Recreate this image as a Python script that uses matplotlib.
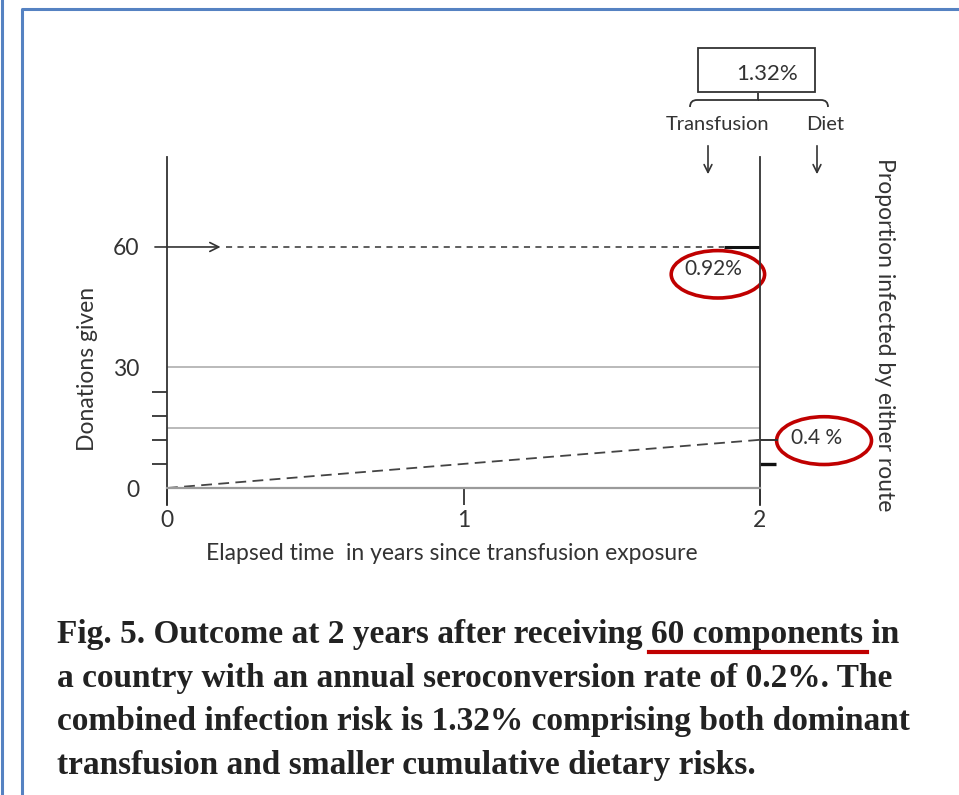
import matplotlib
matplotlib.use("Agg")
import matplotlib.pyplot as plt
from matplotlib.patches import Ellipse, Rectangle, PathPatch
from matplotlib.path import Path
from matplotlib.lines import Line2D

# ---- data -------------------------------------------------------------
years = [0, 1, 2]
year_labels = ["0", "1", "2"]
donation_ticks = [0, 30, 60]
donation_labels = ["0", "30", "60"]
minor_donation_ticks = [6, 12, 18, 24, 30]
components_received = 60          # units transfused at time 0
reference_levels = [30, 15]       # grey guide lines
diet_years = [0, 2]
diet_equivalent = [0, 12]         # cumulative dietary exposure, donation-equivalents
right_marks = [60, 12, 6]         # marks on the right-hand scale
transfusion_risk = "0.92%"
dietary_risk = "0.4 %"
combined_risk = "1.32%"
caption_lines = [
    "Fig. 5. Outcome at 2 years after receiving 60 components in",
    "a country with an annual seroconversion rate of 0.2%. The",
    "combined infection risk is 1.32% comprising both dominant",
    "transfusion and smaller cumulative dietary risks.",
]
highlight = "60 components"       # phrase underlined in the caption

W, H = 959, 795
fig = plt.figure(figsize=(W / 100, H / 100), dpi=100)
fig.patch.set_facecolor("white")

ink = "#333333"
grey = "#b4b4b4"
red = "#c00000"
blue = "#5582c2"
sans = "Lato"
fs = 16.5

# ---- main axes --------------------------------------------------------
px_left, px_right, px_top, px_bottom = 167, 760, 157, 505
ax = fig.add_axes([px_left / W, 1 - px_bottom / H,
                   (px_right - px_left) / W, (px_bottom - px_top) / H])
ax.set_facecolor("none")
ax.set_xlim(0, 2)
ax.set_ylim(-4.23, 82.4)

for s in ("left", "right"):
    ax.spines[s].set_color(ink)
    ax.spines[s].set_linewidth(1.3)
ax.spines["top"].set_visible(False)
ax.spines["bottom"].set_position(("data", 0))
ax.spines["bottom"].set_color("#9a9a9a")
ax.spines["bottom"].set_linewidth(1.6)

ax.set_xticks(years)
ax.set_xticklabels(year_labels, fontfamily=sans, fontsize=fs, color=ink)
ax.tick_params(axis="x", direction="out", length=12.5, width=1.3,
               color=ink, pad=3)

ax.set_yticks(donation_ticks)
ax.set_yticklabels(donation_labels, fontfamily=sans, fontsize=fs, color=ink)
ax.tick_params(axis="y", which="major", length=0, pad=20)
ax.set_yticks(minor_donation_ticks, minor=True)
ax.tick_params(axis="y", which="minor", direction="out", length=10.5,
               width=1.3, color=ink)

# grey reference levels
for lvl in reference_levels:
    ax.plot([0, 2], [lvl, lvl], color=grey, lw=1.3, zorder=1)

# transfused components: arrow then dashed carry-forward to year 2
ax.annotate("", xy=(0.19, components_received), xytext=(-0.05, components_received),
            arrowprops=dict(arrowstyle="->", color=ink, lw=1.2,
                            mutation_scale=16),
            annotation_clip=False)
ax.plot([0.2, 1.88], [components_received] * 2, color=ink, lw=1.1,
        dashes=(4, 3.5))
ax.plot([1.88, 2], [components_received] * 2, color="#111111", lw=2.2,
        solid_capstyle="butt")

# cumulative dietary exposure
ax.plot(diet_years, diet_equivalent, color="#444444", lw=1.3, dashes=(6, 3.5))

# marks on the right-hand scale
ax.plot([2, 2.06], [right_marks[1]] * 2, color=ink, lw=1.4,
        clip_on=False, solid_capstyle="butt")
ax.plot([2, 2.055], [right_marks[2]] * 2, color="#111111", lw=2.4,
        clip_on=False, solid_capstyle="butt")

# value labels with red rings
ax.annotate(transfusion_risk, xy=(2, components_received), xytext=(-47, -22),
            textcoords="offset pixels", ha="center", va="center",
            fontfamily=sans, fontsize=15, color=ink, annotation_clip=False)
ax.add_patch(Ellipse((1.858, components_received - 6.8), 0.315, 11.8,
                     fill=False, ec=red, lw=2.6, clip_on=False))
ax.annotate(dietary_risk, xy=(2, diet_equivalent[-1]), xytext=(57, 2),
            textcoords="offset pixels", ha="center", va="center",
            fontfamily=sans, fontsize=15, color=ink, annotation_clip=False)
ax.add_patch(Ellipse((2.216, diet_equivalent[-1] - 0.2), 0.32, 11.9,
                     fill=False, ec=red, lw=2.6, clip_on=False))

ax.set_xlabel("Elapsed time  in years since transfusion exposure",
              fontfamily=sans, fontsize=fs, color=ink)
ax.set_ylabel("Donations given", fontfamily=sans, fontsize=fs, color=ink)
ax.yaxis.set_label_coords(-0.116, 0.392)
ax.xaxis.set_label_coords(0.48, -0.11)

# right-hand axis title
fig.text(885 / W, 1 - 335 / H, "Proportion infected by either route",
         rotation=-90, ha="center", va="center", fontfamily=sans,
         fontsize=fs, color=ink)

# ---- overlay in pixel units: frame, combined-risk box, caption --------
ov = fig.add_axes([0, 0, 1, 1], zorder=5)
ov.set_xlim(0, W)
ov.set_ylim(H, 0)
ov.axis("off")
ov.patch.set_alpha(0)

ov.add_line(Line2D([1.5, 1.5], [0, H], color=blue, lw=2.2))
ov.add_line(Line2D([21.5, 21.5, W], [H, 9, 9], color=blue, lw=2.2))

ov.add_patch(Rectangle((698, 48), 117, 44, fill=False, ec=ink, lw=1.3))
ov.text(767, 74, combined_risk, ha="center", va="center",
        fontfamily=sans, fontsize=16, color=ink)

brace = Path([(690, 107), (690, 100), (697, 100), (753, 100),
              (758, 100), (758, 93), (758, 100), (763, 100),
              (821, 100), (828, 100), (828, 107)],
             [Path.MOVETO, Path.CURVE3, Path.CURVE3, Path.LINETO,
              Path.LINETO, Path.LINETO, Path.MOVETO, Path.LINETO,
              Path.LINETO, Path.CURVE3, Path.CURVE3])
ov.add_patch(PathPatch(brace, fill=False, ec=ink, lw=1.3))

ov.text(718, 125, "Transfusion", ha="center", va="center",
        fontfamily=sans, fontsize=14.5, color=ink)
ov.text(825, 125, "Diet", ha="center", va="center",
        fontfamily=sans, fontsize=14.5, color=ink)
for x in (708, 817):
    ov.annotate("", xy=(x, 177), xytext=(x, 143),
                arrowprops=dict(arrowstyle="->", color=ink, lw=1.2,
                                mutation_scale=14))

cap_style = dict(fontfamily="Liberation Serif", fontweight="bold",
                 fontsize=24, color="#222222")
cap_x, cap_y0, cap_dy = 57, 643, 43.7
for i, line in enumerate(caption_lines):
    ov.text(cap_x, cap_y0 + cap_dy * i, line, ha="left", va="baseline",
            **cap_style)

# red underline beneath the highlighted phrase of the first caption line
renderer = fig.canvas.get_renderer()
def text_width(s):
    t = ov.text(0, 0, s, **cap_style)
    w = t.get_window_extent(renderer).width
    t.remove()
    return w
prefix = caption_lines[0].split(highlight)[0]
u0 = cap_x + text_width(prefix)
u1 = u0 + text_width(highlight)
ov.add_line(Line2D([u0 - 2, u1 + 4], [cap_y0 + 9, cap_y0 + 9], color=red, lw=3.0))

fig.savefig("out.png", dpi=100, facecolor="white")
